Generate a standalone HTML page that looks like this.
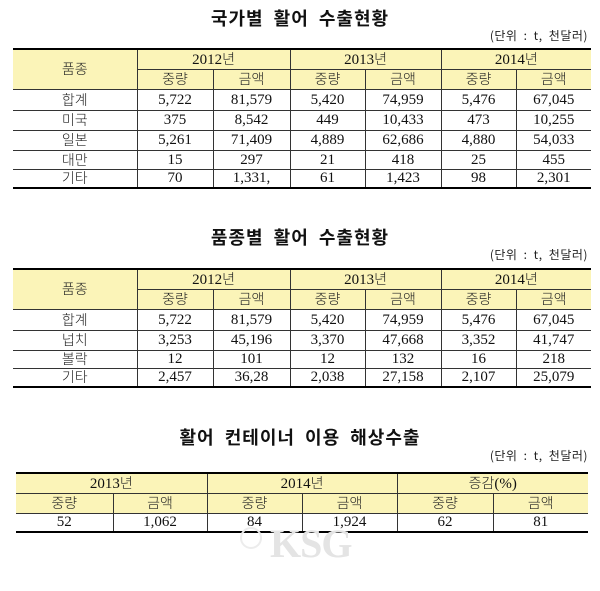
<!DOCTYPE html>
<html><head><meta charset="utf-8"><style>
body{margin:0;width:600px;height:591px;background:#fff;position:relative;overflow:hidden;font-family:"Liberation Serif","Noto Serif CJK SC",serif;color:#111}
.t{position:absolute;left:0;width:600px;text-align:center;font-family:"Noto Sans CJK KR","NanumGothic",sans-serif;font-weight:bold;font-size:18px;letter-spacing:1px;word-spacing:5px}
.u{position:absolute;right:12px;font-family:"Noto Sans CJK KR","NanumGothic",sans-serif;font-size:12px;color:#222;word-spacing:3px;letter-spacing:0.5px}
table{position:absolute;border-collapse:collapse;table-layout:fixed;border-top:2.5px solid #000;border-bottom:2.5px solid #000}
td{border:1px solid #333;text-align:center;padding:0;font-size:15px;line-height:16px;overflow:hidden;white-space:nowrap}
td:first-child{border-left:none}td:last-child{border-right:none}
.h{background:#fbf4b8}
.k{font-family:"Noto Sans CJK KR","NanumGothic",sans-serif;font-size:14px;font-weight:300;color:#222}
.wm{position:absolute;left:240px;top:520px;font-family:"Liberation Serif",serif;font-weight:bold;font-size:40px;color:#e4e4e4;letter-spacing:-1px}
.wm span{display:inline-block;width:18px;height:18px;border:2px solid #ececec;border-radius:50%;margin-right:8px;vertical-align:8px}
</style></head><body>
<div class="t" style="top:5px">국가별 활어 수출현황</div>
<div class="u" style="top:27px">(단위 : t, 천달러)</div>
<table style="left:13px;top:48px;width:578px">
<colgroup><col style="width:124px"><col style="width:76px"><col style="width:77px"><col style="width:75px"><col style="width:76px"><col style="width:75px"><col style="width:75px"></colgroup>
<tr style="height:20px"><td class="h k" rowspan="2">품종</td><td class="h" colspan="2">2012<span class="k">년</span></td><td class="h" colspan="2">2013<span class="k">년</span></td><td class="h" colspan="2">2014<span class="k">년</span></td></tr>
<tr style="height:20px"><td class="h k">중량</td><td class="h k">금액</td><td class="h k">중량</td><td class="h k">금액</td><td class="h k">중량</td><td class="h k">금액</td></tr>
<tr style="height:21px"><td class="k">합계</td><td>5,722</td><td>81,579</td><td>5,420</td><td>74,959</td><td>5,476</td><td>67,045</td></tr>
<tr style="height:20px"><td class="k">미국</td><td>375</td><td>8,542</td><td>449</td><td>10,433</td><td>473</td><td>10,255</td></tr>
<tr style="height:20px"><td class="k">일본</td><td>5,261</td><td>71,409</td><td>4,889</td><td>62,686</td><td>4,880</td><td>54,033</td></tr>
<tr style="height:19px"><td class="k">대만</td><td>15</td><td>297</td><td>21</td><td>418</td><td>25</td><td>455</td></tr>
<tr style="height:19px"><td class="k">기타</td><td>70</td><td>1,331,</td><td>61</td><td>1,423</td><td>98</td><td>2,301</td></tr>
</table>

<div class="t" style="top:224px">품종별 활어 수출현황</div>
<div class="u" style="top:246px">(단위 : t, 천달러)</div>
<table style="left:13px;top:268px;width:578px">
<colgroup><col style="width:124px"><col style="width:76px"><col style="width:77px"><col style="width:75px"><col style="width:76px"><col style="width:75px"><col style="width:75px"></colgroup>
<tr style="height:20px"><td class="h k" rowspan="2">품종</td><td class="h" colspan="2">2012<span class="k">년</span></td><td class="h" colspan="2">2013<span class="k">년</span></td><td class="h" colspan="2">2014<span class="k">년</span></td></tr>
<tr style="height:20px"><td class="h k">중량</td><td class="h k">금액</td><td class="h k">중량</td><td class="h k">금액</td><td class="h k">중량</td><td class="h k">금액</td></tr>
<tr style="height:21px"><td class="k">합계</td><td>5,722</td><td>81,579</td><td>5,420</td><td>74,959</td><td>5,476</td><td>67,045</td></tr>
<tr style="height:20px"><td class="k">넙치</td><td>3,253</td><td>45,196</td><td>3,370</td><td>47,668</td><td>3,352</td><td>41,747</td></tr>
<tr style="height:18px"><td class="k">볼락</td><td>12</td><td>101</td><td>12</td><td>132</td><td>16</td><td>218</td></tr>
<tr style="height:19px"><td class="k">기타</td><td>2,457</td><td>36,28</td><td>2,038</td><td>27,158</td><td>2,107</td><td>25,079</td></tr>
</table>

<div class="t" style="top:424px">활어 컨테이너 이용 해상수출</div>
<div class="u" style="top:447px">(단위 : t, 천달러)</div>
<table style="left:16px;top:472px;width:572px">
<colgroup><col style="width:97px"><col style="width:94px"><col style="width:95px"><col style="width:95px"><col style="width:96px"><col style="width:95px"></colgroup>
<tr style="height:20px"><td class="h" colspan="2">2013<span class="k">년</span></td><td class="h" colspan="2">2014<span class="k">년</span></td><td class="h" colspan="2"><span class="k">증감</span>(%)</td></tr>
<tr style="height:20px"><td class="h k">중량</td><td class="h k">금액</td><td class="h k">중량</td><td class="h k">금액</td><td class="h k">중량</td><td class="h k">금액</td></tr>
<tr style="height:19px"><td>52</td><td>1,062</td><td>84</td><td>1,924</td><td>62</td><td>81</td></tr>
</table>
<div class="wm"><span></span>KSG</div>
</body></html>
